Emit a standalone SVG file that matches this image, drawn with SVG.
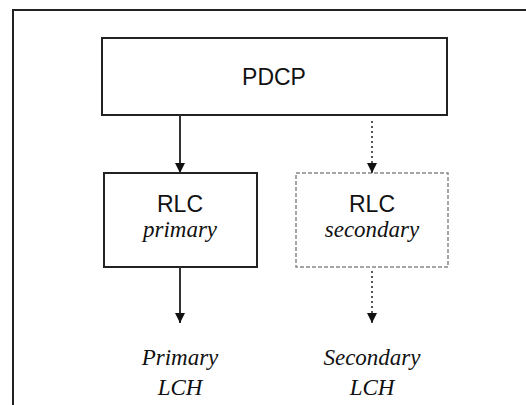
<svg xmlns="http://www.w3.org/2000/svg" width="526" height="405" viewBox="0 0 526 405">
<defs>
<style>
.box{fill:#fff;stroke:#222;stroke-width:2}
.dbox{fill:#fff;stroke:#888;stroke-width:1.5;stroke-dasharray:4 2}
.sans{font-family:"Liberation Sans",Arial,sans-serif;font-size:23px;fill:#111;text-anchor:middle}
.ital{font-family:"Liberation Serif","Times New Roman",serif;font-style:italic;font-size:23px;fill:#111;text-anchor:middle}
.solid{stroke:#333;stroke-width:2;fill:none}
.dot{stroke:#555;stroke-width:2;fill:none;stroke-dasharray:2 3}
</style>
<marker id="ah" viewBox="0 0 10 10" refX="10" refY="5" markerWidth="10" markerHeight="10" markerUnits="userSpaceOnUse" orient="auto">
<path d="M0,0 L10,5 L0,10 Z" fill="#111"/>
</marker>
</defs>
<rect x="13" y="10" width="600" height="500" fill="#fff" stroke="#222" stroke-width="2"/>
<g id="pdcp">
<rect class="box" x="102" y="38" width="345" height="77"/>
<text class="sans" x="274" y="85">PDCP</text>
</g>
<g id="rlc-primary">
<rect class="box" x="104" y="173" width="153" height="94"/>
<text class="sans" x="180" y="212">RLC</text>
<text class="ital" x="180" y="237">primary</text>
</g>
<g id="rlc-secondary">
<rect class="dbox" x="296" y="173" width="152" height="94"/>
<text class="sans" x="372" y="212">RLC</text>
<text class="ital" x="372" y="237">secondary</text>
</g>
<g id="primary-lch">
<text class="ital" x="180" y="365">Primary</text>
<text class="ital" x="180" y="395">LCH</text>
</g>
<g id="secondary-lch">
<text class="ital" x="372" y="365">Secondary</text>
<text class="ital" x="372" y="395">LCH</text>
</g>
<g id="connectors">
<line class="solid" x1="180" y1="115" x2="180" y2="173" marker-end="url(#ah)"/>
<line class="dot" x1="372" y1="121" x2="372" y2="173" marker-end="url(#ah)"/>
<line class="solid" x1="180" y1="267" x2="180" y2="323" marker-end="url(#ah)"/>
<line class="dot" x1="372" y1="271" x2="372" y2="323" marker-end="url(#ah)"/>
</g>
</svg>
